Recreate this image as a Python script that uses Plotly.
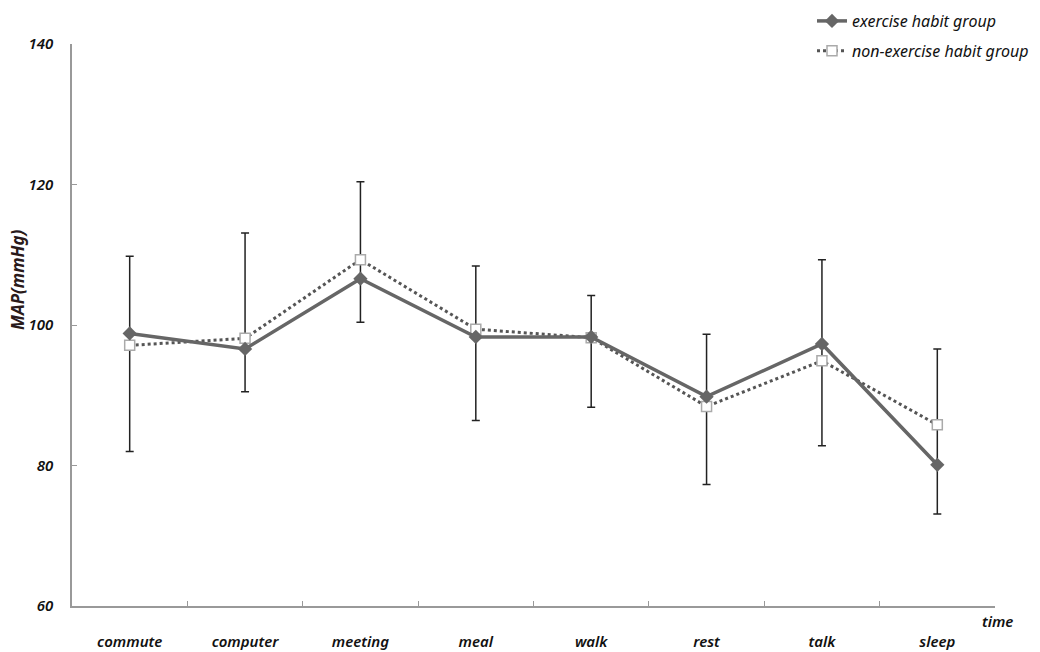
import plotly.graph_objects as go

categories = ["commute", "computer", "meeting", "meal", "walk", "rest", "talk", "sleep"]
exercise = [98.8, 96.6, 106.6, 98.3, 98.3, 89.8, 97.3, 80.1]
non_exercise = [97.1, 98.1, 109.3, 99.4, 98.2, 88.4, 94.9, 85.8]
err_top = [109.8, 113.1, 120.4, 108.4, 104.2, 98.7, 109.3, 96.6]
err_bottom = [82.0, 90.5, 100.4, 86.4, 88.3, 77.3, 82.8, 73.1]

FONT = "Noto Sans"

fig = go.Figure()

# error bars (drawn first, below lines)
fig.add_trace(go.Scatter(
    x=categories, y=exercise, mode="markers",
    marker=dict(size=1, color="rgba(0,0,0,0)"),
    error_y=dict(type="data", symmetric=False,
                 array=[t - m for t, m in zip(err_top, exercise)],
                 arrayminus=[m - b for m, b in zip(exercise, err_bottom)],
                 color="#222222", thickness=1.5, width=4),
    showlegend=False, hoverinfo="skip"))

fig.add_trace(go.Scatter(
    x=categories, y=non_exercise, mode="lines+markers",
    name="non-exercise habit group", legendgroup="b", legendrank=2,
    line=dict(color="#555555", width=3, dash="dot"),
    marker=dict(symbol="square", size=10, color="white",
                line=dict(color="#aaaaaa", width=1.5))))

fig.add_trace(go.Scatter(
    x=categories, y=exercise, mode="lines+markers",
    name="exercise habit group", legendgroup="a", legendrank=1,
    line=dict(color="#666666", width=3.5),
    marker=dict(symbol="diamond", size=11, color="#666666")))

fig.update_layout(
    width=1040, height=652,
    margin=dict(l=72, r=45, t=44, b=46, autoexpand=False),
    paper_bgcolor="white", plot_bgcolor="white",
    showlegend=True,
    legend=dict(x=(812 - 72) / 923, y=(606 - 4) / 562, xanchor="left", yanchor="top",
                traceorder="grouped", tracegroupgap=6,
                font=dict(family=FONT, size=16, color="#111111", style="italic"),
                bgcolor="rgba(0,0,0,0)"),
    xaxis=dict(type="category", range=[-0.5, 7.5], tickson="boundaries", ticks="inside", ticklen=5,
               tickcolor="#999999", showline=True, linecolor="#999999", linewidth=1.5,
               showgrid=False, zeroline=False, ticklabelstandoff=21, automargin=False,
               tickfont=dict(family=FONT, size=15, color="#111111", style="italic", weight=600)),
    yaxis=dict(range=[60, 140], dtick=20, ticks="inside", ticklen=5,
               tickcolor="#999999", showline=True, linecolor="#999999", linewidth=1.5,
               showgrid=False, zeroline=False, ticklabelstandoff=14, automargin=False,
               tickfont=dict(family=FONT, size=15, color="#111111", style="italic", weight=600)),
    annotations=[
        dict(text="MAP(mmHg)", textangle=-90, xref="paper", yref="paper",
             x=(17 - 72) / 923, y=(606 - 280) / 562, xanchor="center", yanchor="middle",
             showarrow=False,
             font=dict(family=FONT, size=17, color="#2a1a1a", style="italic", weight=700)),
        dict(text="time", xref="paper", yref="paper",
             x=(997 - 72) / 923, y=(606 - 621) / 562, xanchor="center", yanchor="middle",
             showarrow=False,
             font=dict(family=FONT, size=15, color="#111111", style="italic", weight=600)),
    ],
)

fig.write_html("out.html")
